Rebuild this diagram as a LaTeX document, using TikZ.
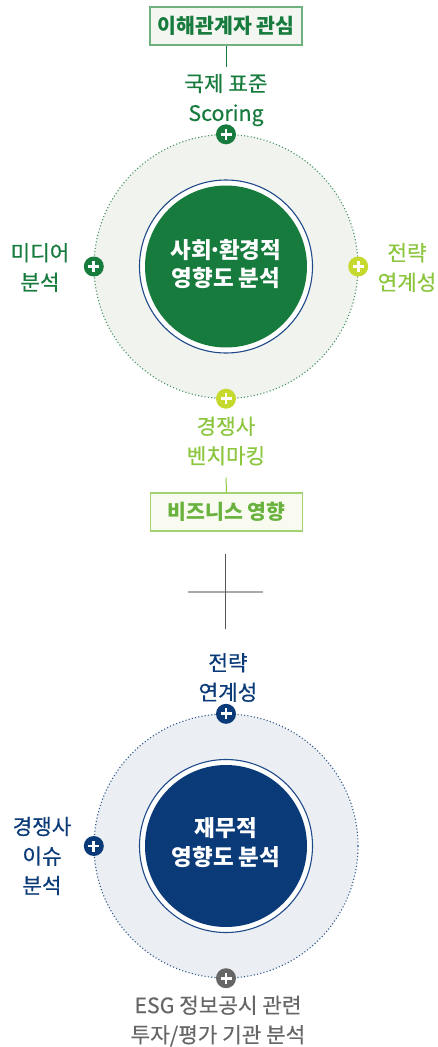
\documentclass[tikz,border=0pt]{standalone}
\usepackage{fontspec}
\setmainfont{Noto Sans CJK KR}
\newfontfamily\medfont[FakeBold=0.35]{Noto Sans CJK KR}
\definecolor{dkgreen}{HTML}{177B3D}
\definecolor{boxgreen}{HTML}{6FB07F}
\definecolor{boxgfill}{HTML}{F3F6F1}
\definecolor{ltgreen}{HTML}{8CC63F}
\definecolor{lticon}{HTML}{C5D92E}
\definecolor{box2border}{HTML}{A3D36F}
\definecolor{box2fill}{HTML}{F9FBF1}
\definecolor{box2text}{HTML}{6AB23E}
\definecolor{navy}{HTML}{0B3A78}
\definecolor{ringblue}{HTML}{1F4A8A}
\definecolor{greyt}{HTML}{666666}
\definecolor{outerg}{HTML}{F1F3EE}
\definecolor{outerb}{HTML}{EBEEF2}
\definecolor{crossv}{HTML}{555555}
\definecolor{crossh}{HTML}{AAAAAA}
\newcommand{\mdot}{\makebox[0.3em]{·}}
\tikzset{
  outerring/.style={circle, minimum size=264pt, inner sep=0pt, fill=#1},
  dotring/.style={draw=#1, line width=1.1pt, dash pattern=on 1.1pt off 2.2pt},
  innerdisk/.style={circle, minimum size=162pt, inner sep=0pt, fill=#1},
  ringline/.style={circle, minimum size=173pt, inner sep=0pt, draw=ringblue, line width=1.1pt, fill=white},
  centertext/.style={text=white, align=center, font=\bfseries\fontsize{22.5}{28.5}\selectfont},
  lbl/.style={text=#1, align=center, inner sep=0pt, font=\medfont\fontsize{21.3}{29.5}\selectfont},
  plusicon/.style={circle, fill=#1, minimum size=20pt, inner sep=0pt,
    path picture={
      \draw[white, line width=2.8pt] ([xshift=-5.5pt]path picture bounding box.center) -- ([xshift=5.5pt]path picture bounding box.center);
      \draw[white, line width=2.8pt] ([yshift=-5.5pt]path picture bounding box.center) -- ([yshift=5.5pt]path picture bounding box.center);
    }},
  topbox/.style={draw=#1, line width=1.3pt, minimum width=152pt, minimum height=38pt, inner sep=0pt,
    font=\bfseries\fontsize{20.5}{24}\selectfont},
}
\begin{document}
\begin{tikzpicture}[x=1pt,y=-1pt]
\useasboundingbox (0,0) rectangle (437,1047);
% ---------- top section ----------
\node[topbox=boxgreen, fill=boxgfill, text=dkgreen] (box1) at (226,26) {이해관계자 관심};
\node[outerring=outerg] (outer1) at (226,266.5) {};
\draw[dotring=dkgreen!80] (outer1.center) circle[radius=132pt];
\node[ringline] (ring1) at (226,266.5) {};
\node[innerdisk=dkgreen] (disk1) at (226,266.5) {};
\node[centertext] (ct1) at (226,264) {사회\mdot 환경적\\영향도 분석};
\node[plusicon=dkgreen] (p1t) at (outer1.north) {};
\node[plusicon=dkgreen] (p1l) at (outer1.west) {};
\node[plusicon=lticon] (p1r) at (outer1.east) {};
\node[plusicon=lticon] (p1b) at (outer1.south) {};
\node[lbl=dkgreen] (l1t) at (226,100) {국제 표준\\Scoring};
\node[lbl=dkgreen] (l1l) at (40,267.5) {미디어\\분석};
\node[lbl=ltgreen] (l1r) at (407,267.5) {전략\\연계성};
\node[lbl=ltgreen] (l1b) at (226,441) {경쟁사\\벤치마킹};
\node[topbox=box2border, fill=box2fill, text=box2text] (box2) at (226.5,512) {비즈니스 영향};
\draw[dkgreen, line width=1pt] (box1.south) -- ([yshift=7pt]l1t.north);
\draw[ltgreen, line width=1pt] ([yshift=-12pt]l1b.south) -- (box2.north);
% ---------- cross ----------
\coordinate (cvt) at (225.5,554);
\coordinate (cvb) at (225.5,629);
\coordinate (chl) at (188,592);
\coordinate (chr) at (263,592);
\draw[crossh, line width=1.6pt] (chl) -- (chr);
\draw[crossv, line width=1pt] (cvt) -- (cvb);
% ---------- bottom section ----------
\node[outerring=outerb] (outer2) at (226,846) {};
\draw[dotring=navy!85] (outer2.center) circle[radius=132pt];
\node[ringline] (ring2) at (226,846) {};
\node[innerdisk=navy] (disk2) at (226,846) {};
\node[centertext] (ct2) at (226,842.5) {재무적\\영향도 분석};
\node[plusicon=navy] (p2t) at (outer2.north) {};
\node[plusicon=navy] (p2l) at (outer2.west) {};
\node[plusicon=greyt] (p2b) at (outer2.south) {};
\node[lbl=navy] (l2t) at (228,677.5) {전략\\연계성};
\node[lbl=navy] (l2l) at (42,856) {경쟁사\\이슈\\분석};
\node[lbl=greyt] (l2b) at (218,1021) {ESG 정보공시 관련\\투자/평가 기관 분석};
\end{tikzpicture}
\end{document}
